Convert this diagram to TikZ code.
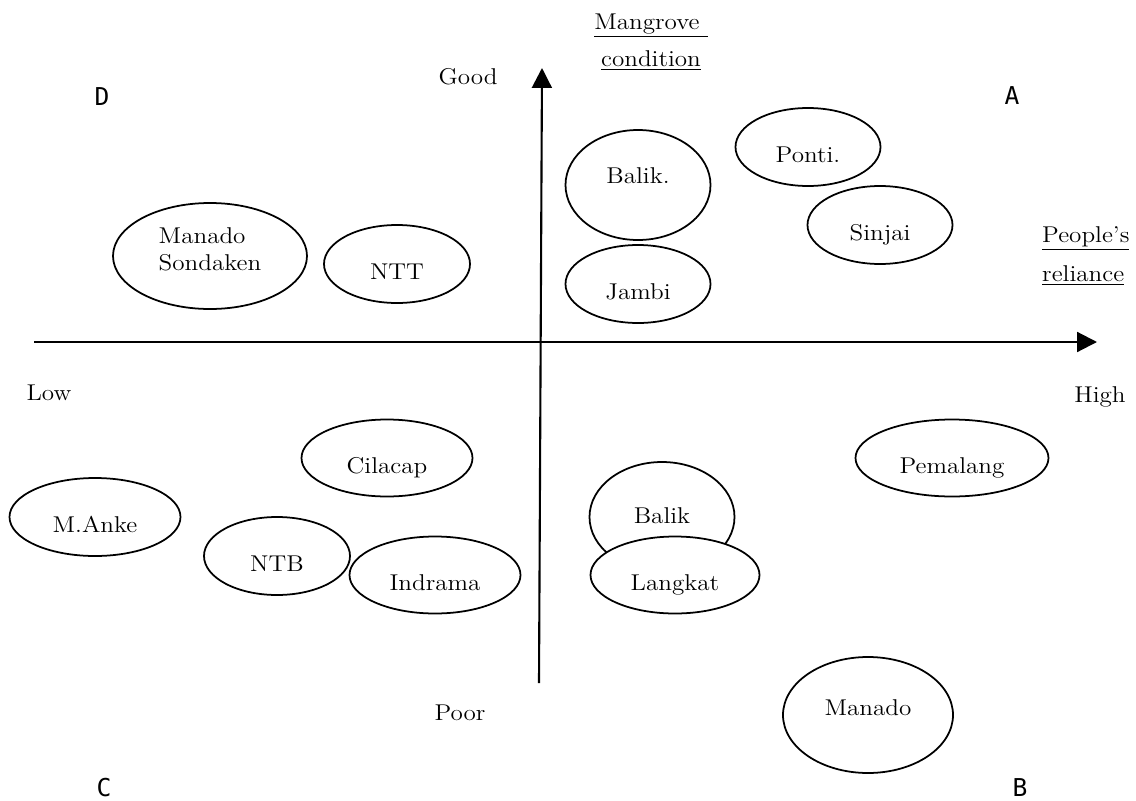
\documentclass[tikz,border=0pt]{standalone}
\usepackage{fontspec}
\setmainfont{Latin Modern Roman}[FakeStretch=1.1]
\usetikzlibrary{shapes.geometric, arrows.meta}
\newfontfamily\quadfont{DejaVu Sans Mono}

\begin{document}
\begin{tikzpicture}[x=0.02cm, y=-0.02cm,
  every node/.style={font=\fontsize{13}{15}\selectfont},
  spot/.style 2 args={draw, ellipse, fill=white, line width=1pt, inner sep=0pt,
    minimum width=#1*0.02cm, minimum height=#2*0.02cm, text height=17.5pt, text depth=0pt},
  axis/.style={line width=1.2pt, -{Triangle[length=11.3pt, width=11.3pt]}},
  quadlbl/.style={font=\quadfont\fontsize{14}{16}\selectfont, inner sep=0pt}]
\useasboundingbox (0,0) rectangle (1136,801);

% Axes
\coordinate (xlow) at (34,342);
\coordinate (xhigh) at (1097,342);
\coordinate (ypoor) at (539,683);
\coordinate (ygood) at (542,68);
\draw[axis] (xlow) -- (xhigh);
\draw[axis] (ypoor) -- (ygood);

% Axis labels
\node (good) at (468,77) {Good};
\node (poor) at (460,713) {Poor};
\node (low) at (49,393) {Low};
\node (high) at (1100,397) {High};
\node[align=center, font=\fontsize{13}{21}\selectfont] (mangrove) at (651,42) {\underline{Mangrove\ }\\\underline{condition}};
\node[align=left, anchor=west, font=\fontsize{13}{22.7}\selectfont] (reliance) at (1036,256) {\underline{People’s}\\\underline{reliance}};

% Quadrants
\node[quadlbl] (qa) at (1012,96) {A};
\node[quadlbl] (qb) at (1020,788) {B};
\node[quadlbl] (qc) at (104,788) {C};
\node[quadlbl] (qd) at (102,97) {D};

% Sites, upper half
\node[spot={145}{110}, text height=9pt, text depth=11pt] (balikup) at (638,185) {Balik.};
\node[spot={145}{78}] (ponti) at (808,147) {Ponti.};
\node[spot={145}{78}] (sinjai) at (880,225) {Sinjai};
\node[spot={145}{78}] (jambi) at (638,284) {Jambi};
\node[spot={194}{106}, align=left, text height=23pt, text depth=7pt] (sondaken) at (210,256) {Manado\\Sondaken};
\node[spot={146}{78}] (ntt) at (397,264) {NTT};

% Sites, lower half
\node[spot={171}{77}] (cilacap) at (387,458) {Cilacap};
\node[spot={171}{78}] (manke) at (95,517) {M.Anke};
\node[spot={146}{78}] (ntb) at (277,556) {NTB};
\node[spot={171}{77}] (indrama) at (435,575) {Indrama};
\node[spot={145}{110}, text height=9pt, text depth=2pt] (baliklow) at (662,517) {Balik};
\node[spot={169}{77}] (langkat) at (675,575) {Langkat};
\node[spot={193}{77}] (pemalang) at (952,458) {Pemalang};
\node[spot={170}{116}, text height=9pt, text depth=8pt] (manado) at (868,715) {Manado};
\end{tikzpicture}
\end{document}
